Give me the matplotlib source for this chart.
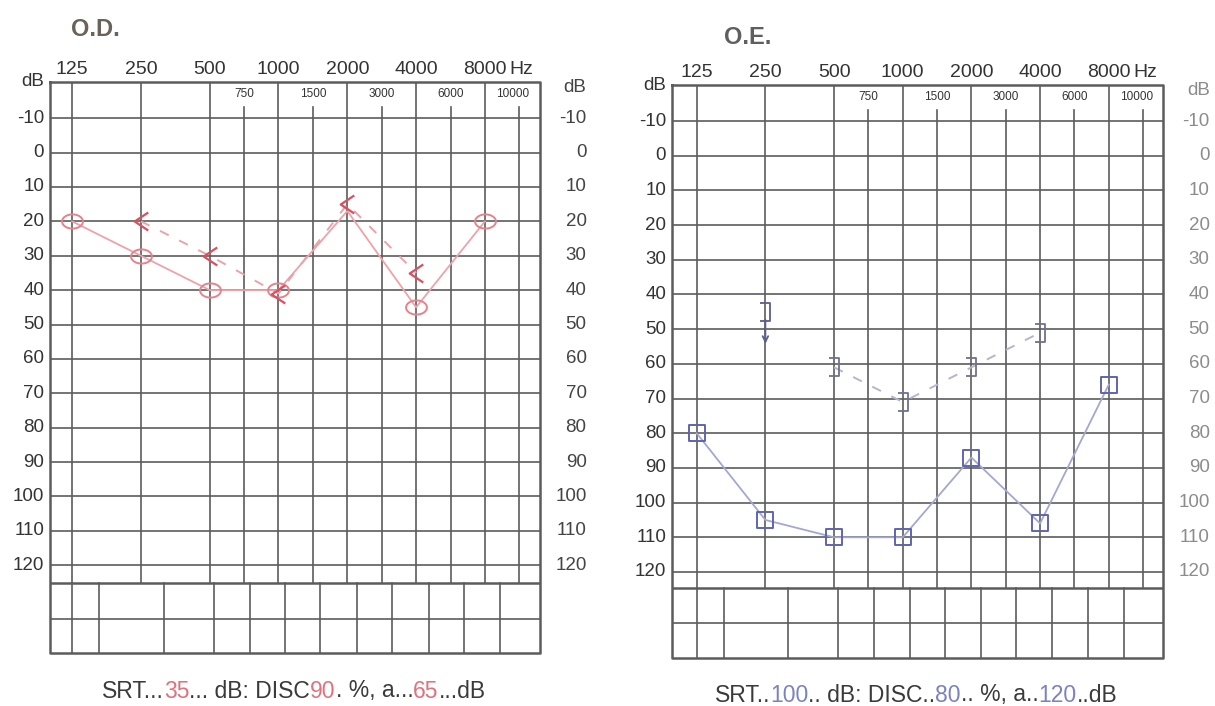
import matplotlib
matplotlib.use("Agg")
import matplotlib.pyplot as plt
import numpy as np
from matplotlib.path import Path
from matplotlib.offsetbox import HPacker, TextArea, AnchoredOffsetbox

plt.rcParams["font.family"] = ["Liberation Sans", "DejaVu Sans"]

# grid of the audiogram form
main_freqs = [125, 250, 500, 1000, 2000, 4000, 8000]
half_freqs = [750, 1500, 3000, 6000, 10000]
db_levels = list(range(-10, 121, 10))

# O.D. (right ear, red)
od_air_freqs = [125, 250, 500, 1000, 2000, 4000, 8000]
od_air_db = [20, 30, 40, 40, 17, 45, 20]
od_bone_freqs = [250, 500, 1000, 2000, 4000]
od_bone_db = [20, 30, 41, 15, 35]
od_speech = ["35", "90", "65"]

# O.E. (left ear, blue)
oe_air_freqs = [125, 250, 500, 1000, 2000, 4000, 8000]
oe_air_db = [80, 105, 110, 110, 87, 106, 66]
oe_bone_freqs = [500, 1000, 2000, 4000]
oe_bone_db = [61, 71, 61, 51]
oe_noresp_freq = 250
oe_noresp_db = 45
oe_speech = ["100", "80", "120"]

# frequency -> horizontal slot on the form (octaves from 125 Hz)
FREQ_POS = {125: 0, 250: 1, 500: 2, 750: 2.5, 1000: 3, 1500: 3.5, 2000: 4,
            3000: 4.5, 4000: 5, 6000: 5.5, 8000: 6, 10000: 6.5}
# columns of the empty table under the grid
lower_cols = [0, 0.39, 1.33, 2.06, 2.58, 3.10, 3.61, 4.14, 4.65, 5.18, 5.70, 6.22]

GRID = "#5c5c5c"

t = np.linspace(0, 2 * np.pi, 48)
ELLIPSE = Path(np.column_stack([np.cos(t), 0.68 * np.sin(t)]), closed=True)
SQUARE = Path([(-1, -1), (1, -1), (1, 1), (-1, 1), (-1, -1)], closed=True)
LT = Path([(0.75, 1), (-0.75, 0), (0.75, -1)],
          [Path.MOVETO, Path.LINETO, Path.LINETO])
BRACKET = Path([(-0.6, 1), (0.5, 1), (0.5, -1), (-0.6, -1)],
               [Path.MOVETO, Path.LINETO, Path.LINETO, Path.LINETO])


def pos(freqs):
    return [FREQ_POS[f] for f in freqs]


def draw_form(ax, xlim, top, grid_bottom, mid, bottom, right_lab_col):
    ax.set_xlim(*xlim)
    ax.set_ylim(bottom, top)
    ax.axis("off")
    x0, x1 = xlim
    kw = dict(color=GRID, lw=1.2, zorder=1)
    # frame
    ax.plot([x0, x1, x1, x0, x0], [top, top, bottom, bottom, top],
            color=GRID, lw=1.8, zorder=2, clip_on=False)
    for db in db_levels:
        ax.plot([x0, x1], [db, db], **kw)
    ax.plot([x0, x1], [grid_bottom, grid_bottom], color=GRID, lw=1.8)
    ax.plot([x0, x1], [mid, mid], **kw)
    for f in main_freqs:
        ax.plot([FREQ_POS[f]] * 2, [top, grid_bottom], **kw)
        ax.text(FREQ_POS[f], top - 1.2, str(f), ha="center", va="bottom",
                fontsize=14, color="#333333")
    ax.text(6.36, top - 1.2, "Hz", ha="left", va="bottom", fontsize=14,
            color="#333333")
    for f in half_freqs:
        ax.plot([FREQ_POS[f]] * 2, [-13.3, grid_bottom], **kw)
        ax.text(FREQ_POS[f] - (0.1 if f == 10000 else 0), -17, str(f),
                ha="center", va="center", fontsize=8.5, color="#333333")
    for c in lower_cols:
        ax.plot([c, c], [grid_bottom, bottom], **kw)

    tr = ax.get_yaxis_transform()
    for db in db_levels:
        ax.text(-0.012, db, str(db), transform=tr, ha="right", va="center",
                fontsize=13.5, color="#333333")
        ax.text(1.095, db, str(db), transform=tr, ha="right", va="center",
                fontsize=13.5, color=right_lab_col)
    ax.text(-0.012, top, "dB", transform=tr, ha="right", va="center",
            fontsize=13.5, color="#333333")
    ax.text(1.095, top + 1.5, "dB", transform=tr, ha="right", va="center",
            fontsize=13.5, color=right_lab_col)


def speech_line(fig, x, y, values, hand_col, gaps):
    pieces = [("SRT" + gaps[0], None), (values[0], hand_col),
              (gaps[1] + " dB: DISC" + gaps[2], None), (values[1], hand_col),
              (gaps[3] + " %, a" + gaps[4], None), (values[2], hand_col),
              (gaps[5] + "dB", None)]
    boxes = [TextArea(s, textprops=dict(fontsize=16.5,
                                        color=c if c else "#3a3a3a"))
             for s, c in pieces]
    pack = HPacker(children=boxes, align="baseline", pad=0, sep=0)
    ab = AnchoredOffsetbox(loc="center", child=pack, frameon=False, pad=0,
                           borderpad=0, bbox_to_anchor=(x, y),
                           bbox_transform=fig.transFigure)
    fig.add_artist(ab)


fig = plt.figure(figsize=(12.15, 7.06), dpi=100)
fig.patch.set_facecolor("white")

ax_od = fig.add_axes([50 / 1215, 1 - 653 / 706, 490 / 1215, 571 / 706])
ax_oe = fig.add_axes([672 / 1215, 1 - 658 / 706, 491 / 1215, 573 / 706])

draw_form(ax_od, (-0.32, 6.80), -20.5, 125.2, 135.6, 145.5, "#444444")
draw_form(ax_oe, (-0.36, 6.79), -20.4, 124.6, 134.7, 144.8, "#8c8c8c")

# O.D. curves
ax_od.plot(pos(od_air_freqs), od_air_db, color="#eea2aa", lw=1.3, zorder=3,
           marker=ELLIPSE, ms=15, mfc="none", mec="#e5828c", mew=1.4,
           markevery=[0, 1, 2, 3, 5, 6])
ax_od.plot(pos(od_bone_freqs), od_bone_db, color="#e9a3aa", lw=1.4,
           ls=(0, (5, 6)), zorder=3, marker=LT, ms=13, mfc="none",
           mec="#d9505e", mew=1.6)

# O.E. curves
ax_oe.plot(pos(oe_air_freqs), oe_air_db, color="#a3a7d3", lw=1.3, zorder=3,
           marker=SQUARE, ms=12, mfc="none", mec="#5f64ad", mew=1.4)
ax_oe.plot(pos(oe_bone_freqs), oe_bone_db, color="#b4b6cc", lw=1.4,
           ls=(0, (5, 6)), zorder=3, marker=BRACKET, ms=13, mfc="none",
           mec="#6e7190", mew=1.3)
ax_oe.plot([FREQ_POS[oe_noresp_freq]], [oe_noresp_db], ls="none",
           marker=BRACKET, ms=13, mfc="none", mec="#5a5e90", mew=1.3, zorder=3)
ax_oe.annotate("", xy=(FREQ_POS[oe_noresp_freq], oe_noresp_db + 10),
               xytext=(FREQ_POS[oe_noresp_freq], oe_noresp_db + 1.5),
               arrowprops=dict(arrowstyle="->", color="#5a5e90", lw=1.3))

fig.text(95 / 1215, 1 - 30 / 706, "O.D.", ha="center", va="center",
         fontsize=17, fontweight="bold", color="#6b6259")
fig.text(748 / 1215, 1 - 38 / 706, "O.E.", ha="center", va="center",
         fontsize=17, fontweight="bold", color="#5f5f5f")

speech_line(fig, 294 / 1215, 1 - 691 / 706, od_speech, "#e0727e",
            ["...", "...", "", ".", "...", "..."])
speech_line(fig, 916 / 1215, 1 - 695 / 706, oe_speech, "#7b82c2",
            ["..", "..", "..", "..", "..", ".."])

fig.savefig("out.png", dpi=100, facecolor="white")
